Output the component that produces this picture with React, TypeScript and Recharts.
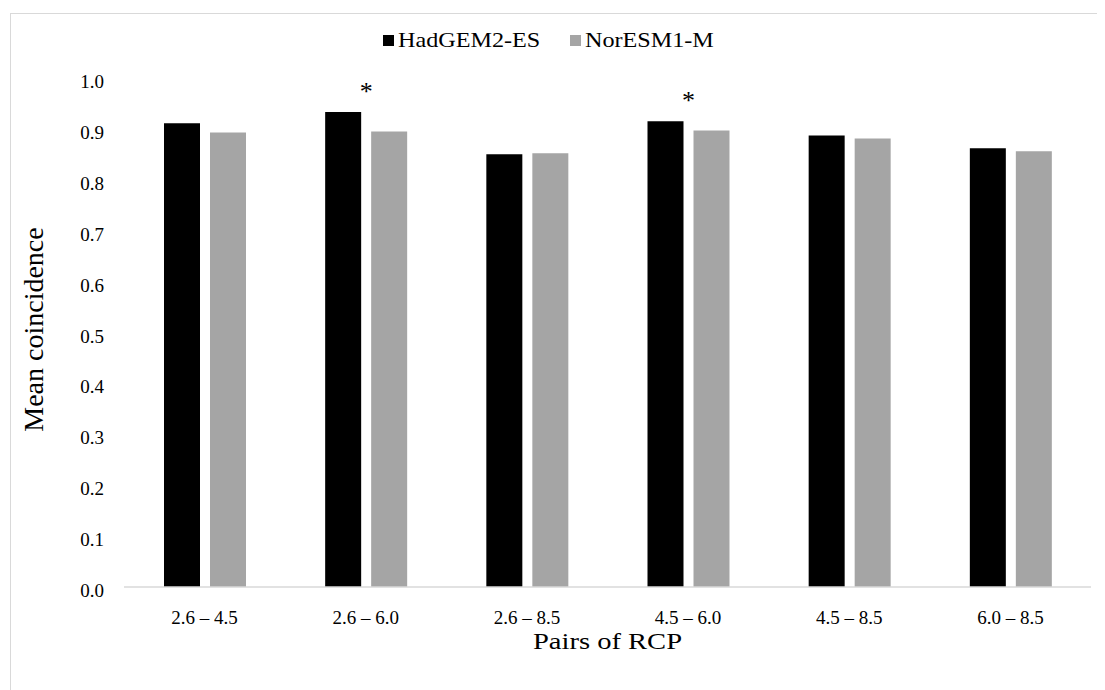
import { BarChart, Bar, XAxis, YAxis, Legend, LabelList, Label } from 'recharts';

// RCP pairs on the x axis
const pairs = ['2.6 – 4.5', '2.6 – 6.0', '2.6 – 8.5', '4.5 – 6.0', '4.5 – 8.5', '6.0 – 8.5'];
// mean coincidence per model
const hadgem = [0.911, 0.933, 0.85, 0.915, 0.887, 0.862];
const noresm = [0.893, 0.895, 0.852, 0.897, 0.881, 0.856];
// significance marks above the groups
const marks = ['', '*', '', '*', '', ''];
const yTicks = [0, 0.1, 0.2, 0.3, 0.4, 0.5, 0.6, 0.7, 0.8, 0.9, 1.0];

const data = pairs.map((p, i) => ({ pair: p, had: hadgem[i], nor: noresm[i], sig: marks[i] }));

const FONT = '"Liberation Serif", "Times New Roman", serif';

function XTick({ x, y, payload }: any) {
  return (
    <text x={x} y={y + 37} textAnchor="middle" fontSize={19} fontFamily={FONT} fill="#000">
      {payload.value}
    </text>
  );
}

function YTick({ x, y, payload }: any) {
  return (
    <text x={x - 20} y={y + 10} textAnchor="end" fontSize={19} fontFamily={FONT} fill="#000">
      {Number(payload.value).toFixed(1)}
    </text>
  );
}

function Stretched({ text, w }: { text: string; w: number }) {
  return (
    <span style={{ display: 'inline-block', width: w, whiteSpace: 'nowrap' }}>
      <span style={{ display: 'inline-block', transform: 'scaleX(1.15)', transformOrigin: 'left center' }}>{text}</span>
    </span>
  );
}

function LegendBox() {
  return (
    <div style={{ display: 'flex', justifyContent: 'center', alignItems: 'center', fontFamily: FONT, fontSize: 21, color: '#000', height: 22, paddingRight: 20 }}>
      <span style={{ width: 11, height: 11, background: '#000', marginRight: 4 }} />
      <Stretched text="HadGEM2-ES" w={144} />
      <span style={{ width: 11, height: 11, background: '#a5a5a5', marginLeft: 28, marginRight: 4 }} />
      <Stretched text="NorESM1-M" w={135} />
    </div>
  );
}

export default function App() {
  return (
    <div style={{ marginLeft: 2, marginTop: 5, width: 1100, height: 680, border: '1px solid #d9d9d9', background: '#fff' }}>
      <BarChart width={1100} height={676} data={data} margin={{ top: 42, right: 20, bottom: 33, left: 0 }} barSize={36} barGap={10}>
        <Legend verticalAlign="top" content={<LegendBox />} wrapperStyle={{ top: 15, left: 0, width: 1100 }} />
        <XAxis
          dataKey="pair"
          tick={<XTick />}
          tickLine={false}
          tickSize={0}
          tickMargin={0}
          height={70}
          axisLine={{ stroke: '#d9d9d9', strokeWidth: 1.5 }}
          interval={0}
        >
          <Label
            content={({ viewBox }: any) => {
              const cx = viewBox.x + viewBox.width / 2;
              return (
                <text
                  x={cx}
                  y={viewBox.y + 62}
                  textAnchor="middle"
                  fontSize={24}
                  fontFamily={FONT}
                  fill="#000"
                  transform={`translate(${cx * (1 - 1.19)},0) scale(1.19,1)`}
                >
                  Pairs of RCP
                </text>
              );
            }}
          />
        </XAxis>
        <YAxis
          domain={[0, 1]}
          ticks={yTicks}
          width={113}
          axisLine={false}
          tickLine={false}
          tickSize={0}
          tickMargin={0}
          tick={<YTick />}
        >
          <Label
            content={({ viewBox }: any) => {
              const cx = 32;
              const cy = viewBox.y + viewBox.height / 2 - 3;
              return (
                <text x={cx} y={cy} transform={`rotate(-90, ${cx}, ${cy})`} textAnchor="middle" fontSize={28} fontFamily={FONT} fill="#000">
                  Mean coincidence
                </text>
              );
            }}
          />
        </YAxis>
        <Bar dataKey="had" name="HadGEM2-ES" fill="#000000" isAnimationActive={false}>
          <LabelList
            dataKey="sig"
            content={({ x, y, width, value }: any) =>
              value ? (
                <text x={Number(x) + Number(width) + 5} y={Number(y) - 12} textAnchor="middle" fontSize={26} fontFamily={FONT} fill="#000">
                  {value}
                </text>
              ) : null
            }
          />
        </Bar>
        <Bar dataKey="nor" name="NorESM1-M" fill="#a5a5a5" isAnimationActive={false} />
      </BarChart>
    </div>
  );
}
